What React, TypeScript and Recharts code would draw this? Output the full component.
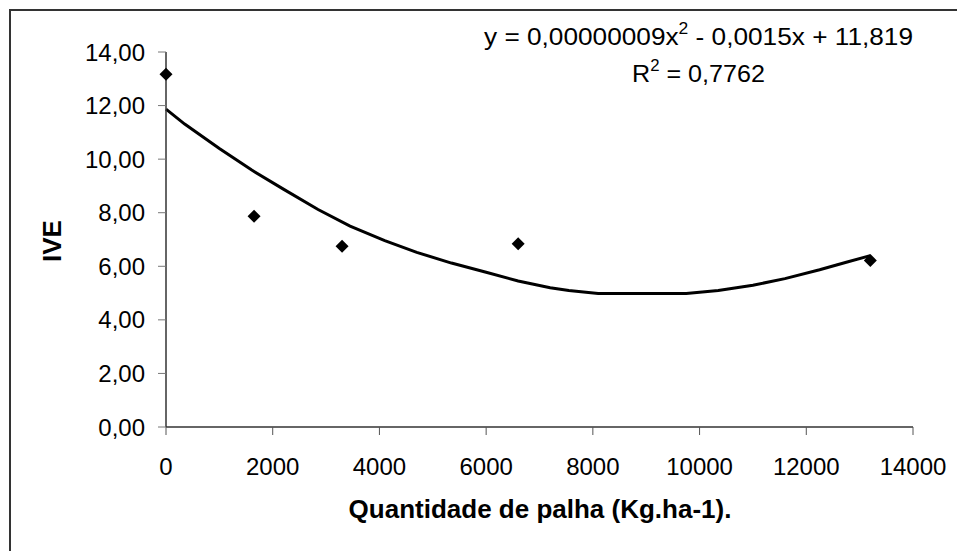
import React from 'react';
import { ComposedChart, Line, Scatter, XAxis, YAxis, Label, Customized } from 'recharts';

// observed points (straw amount x IVE)
const pointX = [0, 1650, 3300, 6600, 13200];
const pointY = [13.17, 7.87, 6.75, 6.84, 6.22];

// trend line
const trendX = [0, 350, 1000, 1600, 2200, 2850, 3450, 4100, 4700, 5350, 6000, 6600, 7200, 7550, 8100, 9750, 10350, 11000, 11600, 12250, 12750, 13200];
const trendY = [11.87, 11.31, 10.4, 9.6, 8.88, 8.12, 7.5, 6.96, 6.52, 6.12, 5.78, 5.45, 5.2, 5.1, 4.98, 4.98, 5.1, 5.29, 5.54, 5.87, 6.15, 6.4];

const xTicks = [0, 2000, 4000, 6000, 8000, 10000, 12000, 14000];
const yTicks = [0, 2, 4, 6, 8, 10, 12, 14];

const points = pointX.map((x, i) => ({ x, y: pointY[i] }));
const trend = trendX.map((x, i) => ({ x, y: trendY[i] }));

const FONT = '"Liberation Sans", Arial, sans-serif';

const Diamond = (props: any) => {
  const { cx, cy } = props;
  const r = 6.5;
  return <polygon points={`${cx},${cy - r} ${cx + r},${cy} ${cx},${cy + r} ${cx - r},${cy}`} fill="#000" />;
};

const Equation = () => (
  <g fontFamily={FONT} fill="#000">
    <text x={484} y={45} fontSize={24} textLength={429} lengthAdjust="spacingAndGlyphs">
      y = 0,00000009x<tspan fontSize={16} dy={-11}>2</tspan>
      <tspan dy={11}> - 0,0015x + 11,819</tspan>
    </text>
    <text x={632} y={82} fontSize={24} textLength={133} lengthAdjust="spacingAndGlyphs">
      R<tspan fontSize={16} dy={-11}>2</tspan>
      <tspan dy={11}> = 0,7762</tspan>
    </text>
  </g>
);

export default function App() {
  return (
    <div style={{ position: 'absolute', left: 0, top: 0, width: 957, height: 551, overflow: 'hidden', background: '#fff' }}>
      <div style={{ position: 'absolute', left: 9, top: 9, width: 1000, height: 600, border: '2px solid #333', boxSizing: 'border-box' }} />
      <div style={{ position: 'absolute', left: 0, top: 0 }}>
        <ComposedChart width={957} height={551} margin={{ top: 52, right: 44, bottom: 44, left: 66 }}>
          <XAxis
            dataKey="x"
            type="number"
            domain={[0, 14000]}
            ticks={xTicks}
            height={80}
            tickSize={8}
            tickMargin={23}
            axisLine={{ stroke: '#333', strokeWidth: 1.5 }}
            tickLine={{ stroke: '#555' }}
            tick={{ fill: '#000', fontSize: 24, fontFamily: FONT }}
          >
            <Label
              content={() => (
                <text x={540} y={518} textAnchor="middle" fontSize={26} fontWeight="bold" fontFamily={FONT} fill="#000">
                  Quantidade de palha (Kg.ha-1).
                </text>
              )}
            />
          </XAxis>
          <YAxis
            type="number"
            domain={[0, 14]}
            ticks={yTicks}
            width={100}
            tickSize={8}
            tickMargin={13}
            tickFormatter={(v: number) => v.toFixed(2).replace('.', ',')}
            axisLine={{ stroke: '#333', strokeWidth: 1.5 }}
            tickLine={{ stroke: '#777' }}
            tick={{ fill: '#000', fontSize: 24, fontFamily: FONT }}
          >
            <Label
              content={() => (
                <text x={61} y={241} transform="rotate(-90 61 241)" textAnchor="middle" fontSize={26} fontWeight="bold" fontFamily={FONT} fill="#000">
                  IVE
                </text>
              )}
            />
          </YAxis>
          <Line
            data={trend}
            dataKey="y"
            type="linear"
            stroke="#000"
            strokeWidth={3}
            dot={false}
            activeDot={false}
            isAnimationActive={false}
          />
          <Scatter data={points} dataKey="y" fill="#000" shape={Diamond} isAnimationActive={false} />
          <Customized component={Equation} />
        </ComposedChart>
      </div>
    </div>
  );
}
